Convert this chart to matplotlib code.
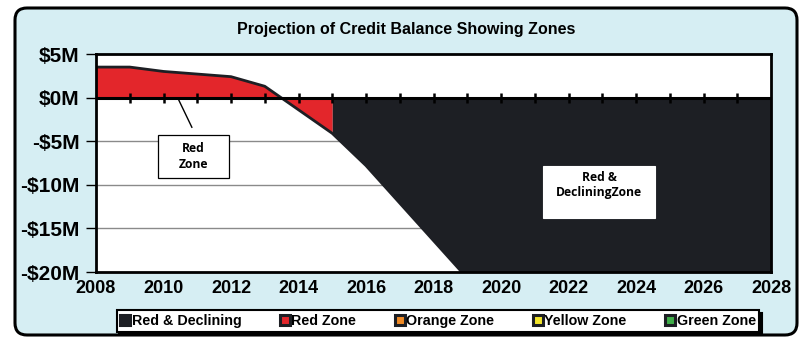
import matplotlib.pyplot as plt
from matplotlib.patches import FancyBboxPatch, Rectangle
from matplotlib.lines import Line2D
import numpy as np

# projected credit balance ($M) by year
years = np.array([2008, 2009, 2010, 2011, 2012, 2013, 2014, 2015, 2016, 2017, 2018, 2019])
balance = np.array([3.5, 3.5, 3.0, 2.7, 2.4, 1.3, -1.4, -4.1, -7.8, -12.1, -16.4, -20.7])

red_end = 2015          # red zone runs until here, then red & declining
x_end = 2028
y_ticks = [5, 0, -5, -10, -15, -20]
y_labels = ["$5M", "$0M", "-$5M", "-$10M", "-$15M", "-$20M"]
x_ticks = list(range(2008, 2029, 2))

zone_names = ["Red & Declining", "Red Zone", "Orange Zone", "Yellow Zone", "Green Zone"]
zone_colors = ["#1d1f24", "#e3262b", "#f08a24", "#f2e52a", "#3fae49"]

RED = "#e3262b"
DARK = "#1d1f24"
PANEL = "#d6eef3"

fig = plt.figure(figsize=(8.02, 3.39), dpi=100)
fig.patch.set_facecolor("white")

# light blue rounded panel behind everything
panel = FancyBboxPatch((0.15, 0.04), 7.82, 3.27, boxstyle="round,pad=0,rounding_size=0.12",
                       transform=fig.dpi_scale_trans, facecolor=PANEL, edgecolor="black",
                       linewidth=2.2, zorder=-1)
fig.add_artist(panel)

ax = fig.add_axes([96/802, 1-272/339, (771-96)/802, (272-54)/339])
ax.set_xlim(2008, x_end)
ax.set_ylim(-20, 5)
ax.set_facecolor("white")

for g in [-5, -10, -15]:
    ax.axhline(g, color="#8a8a8a", lw=1, zorder=1)

# red zone
m = years <= red_end
ax.fill_between(years[m], balance[m], 0, color=RED, zorder=2, lw=0)

# red & declining zone: from zero down to the balance line, then full depth
d = years >= red_end
ax.fill_between(years[d], balance[d], 0, color=DARK, zorder=2, lw=0)
ax.fill_between([years[-1], x_end], -20, 0, color=DARK, zorder=2, lw=0)

ax.plot(years, balance, color=DARK, lw=2, zorder=3, solid_joinstyle="round")

ax.axhline(0, color="black", lw=2.2, zorder=4)
ax.plot(np.arange(2009, x_end), np.zeros(x_end - 2009), ls="none", marker="|",
        ms=7, mew=1.8, color="black", zorder=4)

for s in ax.spines.values():
    s.set_linewidth(2)
    s.set_zorder(5)

ax.set_yticks(y_ticks)
ax.set_yticklabels(y_labels, fontsize=15, fontweight="bold", family="Liberation Sans")
ax.set_xticks(x_ticks)
ax.set_xticklabels([str(x) for x in x_ticks], fontsize=13, fontweight="bold", family="Liberation Sans")
ax.tick_params(axis="y", length=7, width=1, pad=5)
ax.tick_params(axis="x", length=0, pad=6)

fig.text(0.506, 0.912, "Projection of Credit Balance Showing Zones", ha="center", va="center",
         fontsize=11.5, fontweight="bold", family="Liberation Sans")

# callouts
ax.plot([2010.84, 2010.43], [-3.4, -0.1], color="black", lw=1, zorder=6)
ax.add_patch(Rectangle((0.092, 0.431), 0.105, 0.197, transform=ax.transAxes,
                       facecolor="white", edgecolor="black", lw=0.9, zorder=7))
ax.text(0.1444, 0.532, "Red\nZone", transform=ax.transAxes, ha="center", va="center",
        fontsize=8.7, fontweight="bold", family="Open Sans", linespacing=1.3, zorder=8)
ax.add_patch(Rectangle((0.6622, 0.2477), 0.1659, 0.2385, transform=ax.transAxes,
                       facecolor="white", edgecolor="white", lw=0.8, zorder=7))
ax.text(0.7452, 0.40, "Red &\nDecliningZone", transform=ax.transAxes, ha="center", va="center",
        fontsize=8.7, fontweight="bold", family="Open Sans", linespacing=1.25, zorder=8)

handles = [Line2D([], [], ls="none", marker="s", ms=7, mfc=c, mec=DARK, mew=2.2)
           for c in zone_colors]
leg = fig.legend(handles, zone_names, loc="center", bbox_to_anchor=(438/802, 1-321/339), ncol=5,
                 frameon=True, fancybox=False, shadow={"color": "black", "alpha": 1},
                 handlelength=0.7, handletextpad=0.1, columnspacing=2.7, borderpad=0.25,
                 borderaxespad=0, prop={"family": "Liberation Sans", "weight": "bold", "size": 10.3})
leg.get_frame().set_edgecolor("black")
leg.get_frame().set_linewidth(1.5)

fig.savefig("out.png", dpi=100)
